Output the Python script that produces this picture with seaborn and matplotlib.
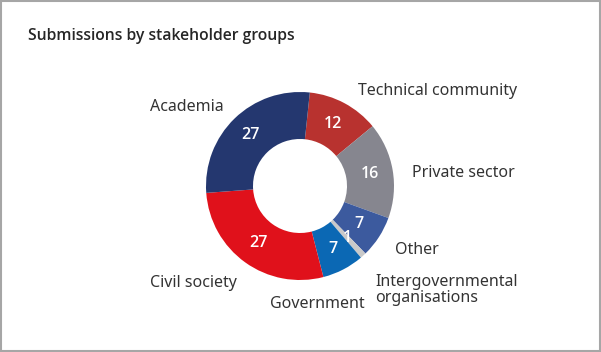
import matplotlib
matplotlib.use("Agg")
import matplotlib.pyplot as plt
import seaborn as sns
import numpy as np
from matplotlib.patches import Rectangle

sns.set_theme(style="white")
plt.rcParams['font.family'] = ['Noto Sans', 'DejaVu Sans']

# Data (clockwise from top)
categories = ["Technical community", "Private sector", "Other",
              "Intergovernmental\norganisations", "Government",
              "Civil society", "Academia"]
values = [12, 16, 7, 1, 7, 27, 27]
colors = ["#b8322f", "#86868f", "#3c5a9e", "#c9c9c9", "#0b68b4",
          "#e0111b", "#24376f"]
title = "Submissions by stakeholder groups"

# label placement (pixels: left x, center y from top)
label_pos = {
    "Technical community": (358, 91),
    "Private sector": (412, 173),
    "Other": (395, 250),
    "Intergovernmental\norganisations": (375, 290),
    "Government": (270, 304),
    "Civil society": (150, 283),
    "Academia": (150, 107),
}

W, H = 601, 352
fig = plt.figure(figsize=(W / 100, H / 100), dpi=100)

cx, cy, R = 300, 186, 94
ax = fig.add_axes([(cx - R) / W, (H - cy - R) / H, 2 * R / W, 2 * R / H])
wedges, _ = ax.pie(values, colors=colors, startangle=84, counterclock=False,
                   radius=1.0, wedgeprops=dict(width=0.5, linewidth=0))
ax.set_xlim(-1, 1)
ax.set_ylim(-1, 1)
ax.set_aspect("equal")
ax.axis("off")

for w, v in zip(wedges, values):
    ang = np.deg2rad((w.theta1 + w.theta2) / 2)
    r = 0.75
    ax.text(r * np.cos(ang), r * np.sin(ang), str(v), color="white",
            ha="center", va="center", fontsize=11.5, fontweight="semibold",
            family=["Open Sans", "DejaVu Sans"])

txt = "#333333"
for cat in categories:
    px, py = label_pos[cat]
    fig.text(px / W, 1 - py / H, cat, ha="left", va="center", fontsize=11.5,
             color=txt, linespacing=1.0)

fig.text(28 / W, 1 - 36 / H, title, ha="left", va="center", fontsize=11.3,
         fontweight="semibold", color="#262626", family=["Open Sans", "DejaVu Sans"])

fig.patches.append(Rectangle((0.75 / W, 0.75 / H), 1 - 1.5 / W, 1 - 1.5 / H,
                             transform=fig.transFigure, fill=False,
                             edgecolor="#a6a6a6", linewidth=1.5))

fig.savefig("out.png", dpi=100)
